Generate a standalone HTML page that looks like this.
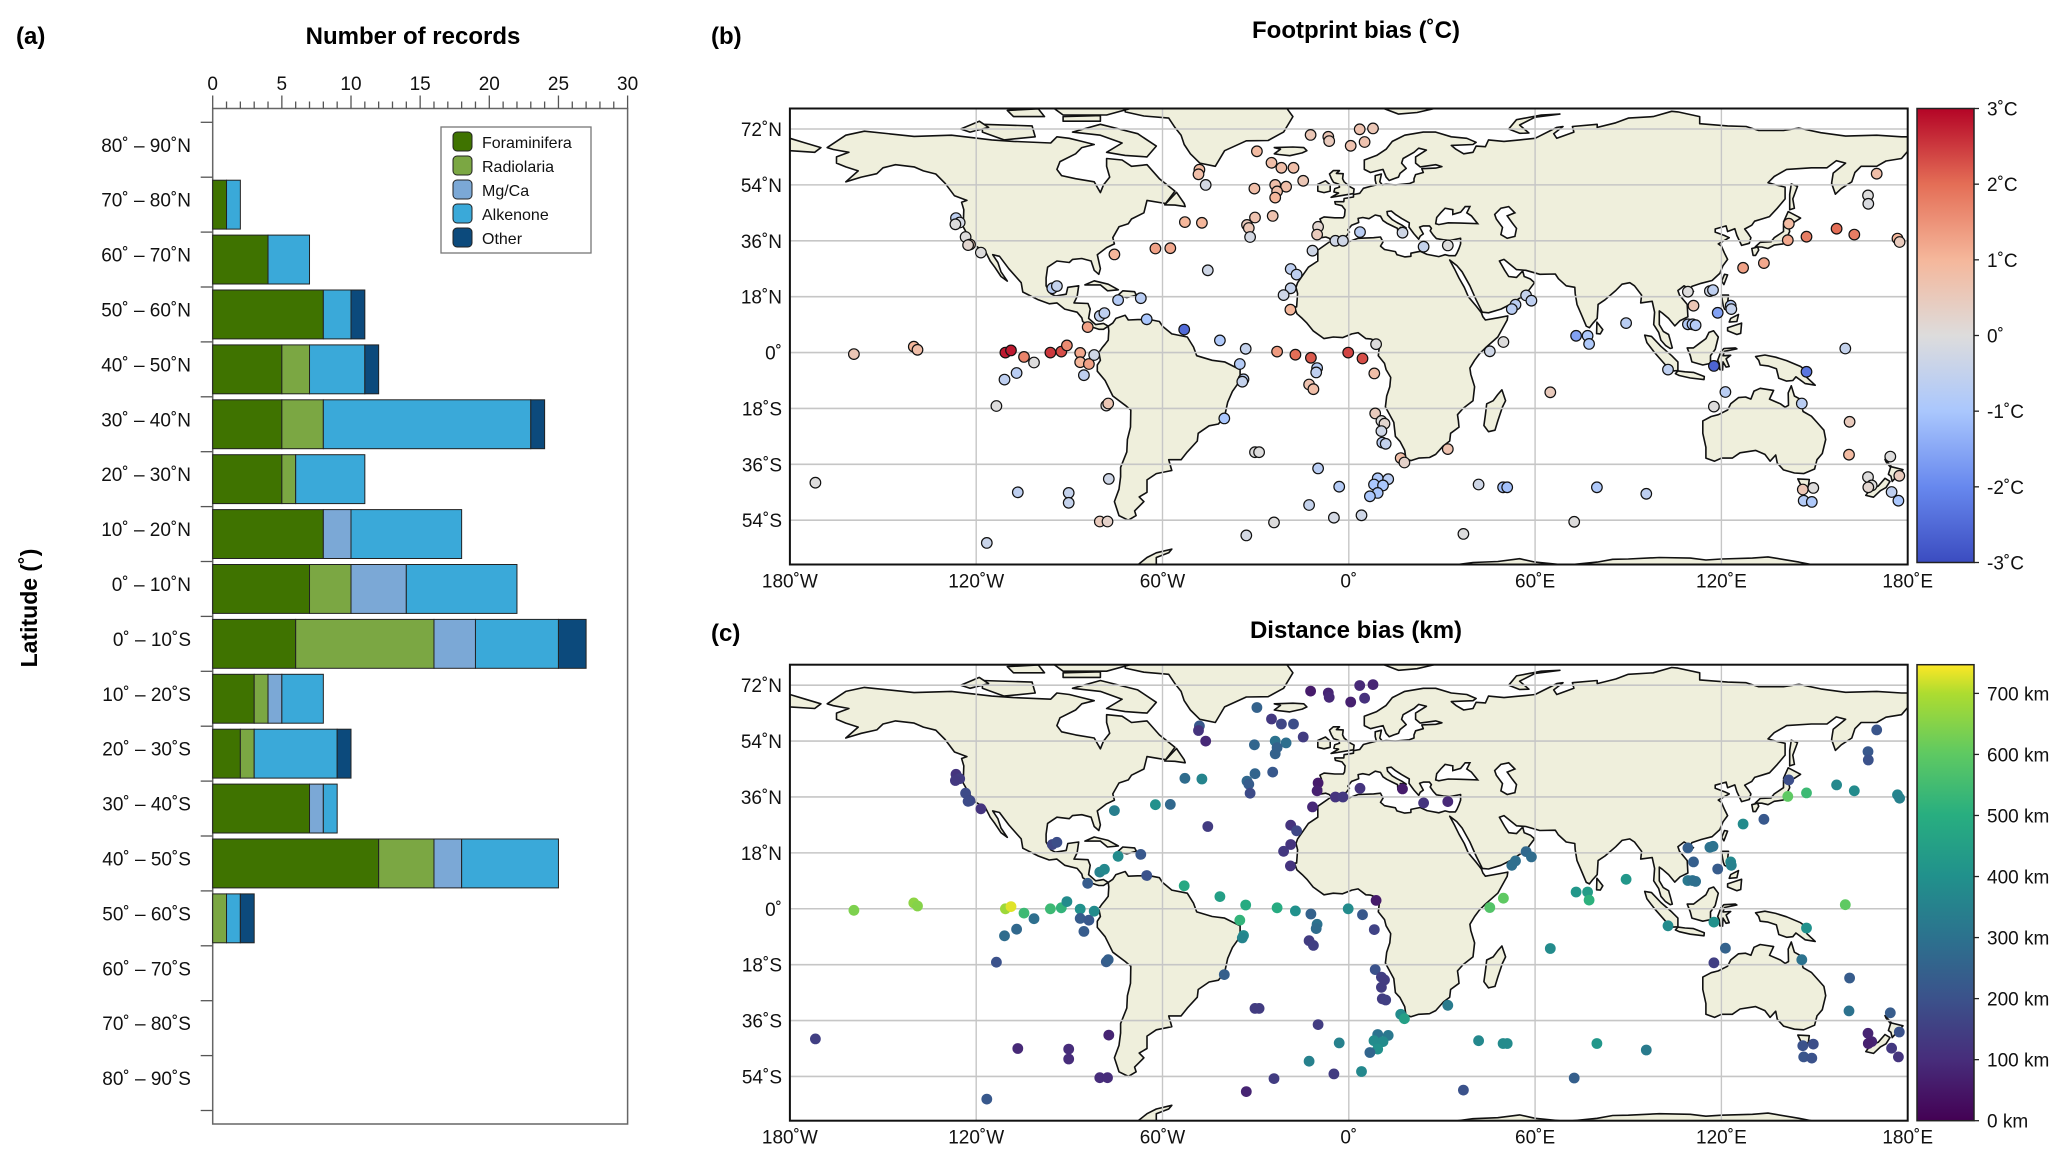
<!DOCTYPE html>
<html><head><meta charset="utf-8">
<style>
html,body{margin:0;padding:0;background:#fff;}
svg{display:block;font-family:"Liberation Sans",sans-serif;}
</style></head>
<body>
<svg id="fig" width="2067" height="1158" viewBox="0 0 2067 1158" xmlns="http://www.w3.org/2000/svg">
<defs>
<clipPath id="clipB"><rect x="789.9" y="108.5" width="1117.8" height="456"/></clipPath>
<clipPath id="clipC"><rect x="789.9" y="664.7" width="1117.8" height="456"/></clipPath>
<linearGradient id="gradB" x1="0" y1="1" x2="0" y2="0">
<stop offset="0" stop-color="#3b4cc0"/><stop offset="0.1667" stop-color="#6788ee"/><stop offset="0.3333" stop-color="#aac7fd"/><stop offset="0.5" stop-color="#dddcdc"/><stop offset="0.6667" stop-color="#f5b79b"/><stop offset="0.8333" stop-color="#e46e56"/><stop offset="1" stop-color="#b40426"/>
</linearGradient>
<linearGradient id="gradC" x1="0" y1="1" x2="0" y2="0">
<stop offset="0" stop-color="#440154"/><stop offset="0.134" stop-color="#472d7b"/><stop offset="0.268" stop-color="#3b528b"/><stop offset="0.402" stop-color="#2c728e"/><stop offset="0.536" stop-color="#21918c"/><stop offset="0.67" stop-color="#28ae80"/><stop offset="0.804" stop-color="#5ec962"/><stop offset="0.937" stop-color="#addc30"/><stop offset="1" stop-color="#fde725"/>
</linearGradient>
</defs>
<g id="panelA"></g>
<g id="panelB"></g>
<g id="panelC"></g>
</svg>
<script>
// ---------- Panel (a) data ----------
const latBands = ["80˚ – 90˚N","70˚ – 80˚N","60˚ – 70˚N","50˚ – 60˚N","40˚ – 50˚N","30˚ – 40˚N","20˚ – 30˚N","10˚ – 20˚N","0˚ – 10˚N","0˚ – 10˚S","10˚ – 20˚S","20˚ – 30˚S","30˚ – 40˚S","40˚ – 50˚S","50˚ – 60˚S","60˚ – 70˚S","70˚ – 80˚S","80˚ – 90˚S"];
const foraminifera = [0,1,4,8,5,5,5,8,7,6,3,2,7,12,0,0,0,0];
const radiolaria   = [0,0,0,0,2,3,1,0,3,10,1,1,0,4,1,0,0,0];
const mgca         = [0,0,0,0,0,0,0,2,4,3,1,0,1,2,0,0,0,0];
const alkenone     = [0,1,3,2,4,15,5,8,8,6,3,6,1,7,1,0,0,0];
const other        = [0,0,0,1,1,1,0,0,0,2,0,1,0,0,1,0,0,0];
const seriesNames  = ["Foraminifera","Radiolaria","Mg/Ca","Alkenone","Other"];
const countTicks   = [0,5,10,15,20,25,30];

// ---------- Map site data (shared site positions) ----------
const siteLon = [-12.3,-6.6,-6.3,0.6,-29.6,-24.9,-21.7,-17.8,-48.1,-48.4,-46.1,-14.7,-23.7,-20.2,-23.1,-23.7,-30.4,-30.2,-24.5,-32.8,-32.2,-31.8,-52.8,-47.3,-9.9,-10.2,-4.3,-1.9,-11.7,-62.3,-57.5,-75.5,-45.4,-18.7,-16.8,-18.7,-21.0,-18.8,-126.5,-125.3,-126.7,-123.4,-122.0,-122.6,-118.5,-95.5,-94.0,-74.3,-67.0,-80.2,-78.7,-84.1,-65.1,-53.0,-41.5,-33.2,-23.1,-17.2,-12.2,-0.2,-35.1,-10.2,-10.5,-33.9,-34.3,-12.8,-11.4,-159.4,-140.1,-138.9,-110.6,-108.8,-104.6,-101.4,-96.1,-92.6,-90.8,-86.5,-86.5,-83.7,-82.0,-107.0,-110.9,-85.3,-113.5,-78.1,-77.5,-40.1,-30.2,-28.9,-9.9,-77.3,-3.1,-171.8,-106.6,-90.2,-90.2,-12.8,-4.8,-80.2,-77.7,-24.1,-33.0,-116.6,
3.5,7.8,5.1,3.6,17.3,24.1,31.9,170.0,167.2,167.3,141.7,141.4,147.4,157.1,162.8,176.7,177.4,127.0,133.7,116.3,117.3,109.2,111.0,118.8,123.0,123.2,109.2,110.7,111.7,89.3,57.1,58.8,53.7,52.5,73.2,76.9,77.4,8.8,49.8,45.4,4.4,8.2,159.9,102.8,117.6,147.4,64.9,121.3,117.6,145.9,8.5,10.5,11.5,10.5,10.8,11.9,31.9,16.7,17.9,161.3,161.1,174.4,9.3,12.7,8.1,11.0,9.3,6.8,41.8,49.7,51.0,79.9,95.8,4.1,36.9,72.6,167.2,168.4,167.3,177.3,174.8,177.0,146.2,149.6,146.5,149.1];
const siteLat = [70.1,69.5,68.1,66.6,64.8,61.1,59.5,59.5,58.9,57.4,54.0,55.3,54.0,53.4,51.9,49.9,52.8,43.5,44.0,41.1,40.1,37.2,42.0,41.8,40.5,38.0,36.0,36.0,32.8,33.5,33.6,31.6,26.5,26.9,25.1,20.7,18.5,13.8,43.3,41.9,41.3,37.2,34.8,34.6,32.2,20.7,21.4,16.9,17.5,11.8,12.7,8.2,10.7,7.4,3.9,1.2,0.3,-0.7,-1.7,0.0,-3.7,-5.0,-6.4,-8.6,-9.4,-10.3,-11.8,-0.5,1.9,0.9,0.0,0.7,-1.4,-3.2,0.0,0.3,2.3,-0.1,-3.1,-3.7,-0.8,-6.6,-8.7,-7.3,-17.2,-17.1,-16.4,-21.2,-32.1,-32.1,-37.3,-40.7,-43.2,-41.9,-45.0,-45.2,-48.4,-49.1,-53.2,-54.4,-54.4,-54.7,-58.9,-61.3,
71.9,72.2,67.8,38.8,38.6,34.1,34.5,57.6,50.6,47.9,41.5,36.2,37.3,39.9,38.0,36.7,35.6,27.3,28.8,19.8,20.1,19.6,15.1,12.8,15.1,14.0,9.1,9.1,8.8,9.5,18.4,16.7,15.4,14.0,5.4,5.4,2.8,2.7,3.4,0.4,-1.9,-6.7,1.3,-5.5,-4.3,-6.2,-12.8,-12.7,-17.4,-16.4,-19.6,-22.0,-22.9,-25.3,-29.0,-29.4,-31.1,-34.0,-35.4,-22.3,-32.9,-33.5,-40.5,-40.8,-42.5,-42.8,-45.2,-46.3,-42.5,-43.4,-43.4,-43.4,-45.5,-52.4,-58.4,-54.5,-40.1,-42.8,-43.4,-39.7,-44.9,-47.7,-44.1,-43.6,-47.7,-48.1];
const footprintBias = [0.6,0.6,0.5,0.7,0.9,0.8,0.8,0.8,0.9,0.8,-0.2,0.6,0.8,0.8,0.8,1.0,0.8,0.7,0.7,0.5,0.6,-0.2,1.0,1.0,0.2,0.5,-0.3,-0.3,-0.3,1.3,1.2,1.0,-0.3,-0.6,-0.6,-0.5,-0.3,1.0,-0.6,-0.2,0,0,0.6,0.2,0,-0.7,-0.5,-0.8,-0.7,-0.6,-0.6,1.3,-1.0,-2.5,-0.9,-0.5,1.4,2.0,2.2,2.4,-0.8,-0.8,-0.6,-0.7,-0.5,0.7,0.8,0.6,1.0,0.8,2.8,2.8,1.7,0,2.5,2.3,1.6,1.2,1.0,1.3,-0.3,-0.7,-0.6,-0.6,0,0,0.6,-1.0,0,0,-0.7,-0.3,-0.8,0,-0.6,-0.5,-0.5,-0.5,-0.2,0.5,0.3,0,-0.2,-0.4,
0.7,0.6,0.7,-0.7,-0.3,-0.5,0,0.8,0,-0.1,0.9,1.2,1.8,2.0,1.8,1.0,0.5,1.3,1.2,-0.3,-0.6,0,0.6,-1.6,-0.8,-0.5,-0.8,-0.9,-0.8,-0.7,-0.5,-0.6,-0.7,-0.7,-1.6,-0.9,-0.9,0,0,-0.3,2.3,0.8,-0.5,-0.6,-2.6,-2.3,0.5,-0.7,0,-0.7,0.5,0,0.2,-0.3,-0.7,-0.5,0.7,0.8,0.3,0.5,0.9,0,-0.9,-0.7,-1.0,-1.0,-1.0,-1.0,-0.3,-1.1,-1.1,-0.9,-0.6,-0.3,0,0,0,0,0.2,0.5,-0.6,-1.0,0.6,0,-0.8,-0.9];
const distanceBias = [60,80,90,70,250,130,170,190,220,120,90,140,300,290,250,250,260,260,220,270,230,180,280,360,60,70,120,130,90,400,270,340,140,120,170,120,130,120,120,140,130,180,170,180,120,170,190,380,220,350,370,230,200,480,450,490,490,400,250,380,520,300,280,380,360,140,150,640,660,650,680,730,540,290,540,520,380,400,230,220,380,270,280,230,200,230,240,240,140,140,140,80,350,150,90,100,100,350,140,100,100,140,80,220,
90,80,110,120,60,120,90,210,220,200,190,600,540,370,380,360,350,380,220,300,300,240,240,230,370,350,320,300,290,420,270,280,290,290,420,440,510,60,600,580,220,160,600,380,400,400,380,250,150,300,200,150,140,140,140,150,330,380,450,230,300,230,300,320,380,380,400,260,370,380,380,420,330,370,200,240,80,80,70,200,130,120,200,190,210,200];
const lonTicks = [-180,-120,-60,0,60,120,180];
const lonTickLabels = ["180˚W","120˚W","60˚W","0˚","60˚E","120˚E","180˚E"];
const latTicks = [72,54,36,18,0,-18,-36,-54];
const latTickLabels = ["72˚N","54˚N","36˚N","18˚N","0˚","18˚S","36˚S","54˚S"];
const tempTicks = [3,2,1,0,-1,-2,-3];
const tempTickLabels = ["3˚C","2˚C","1˚C","0˚","-1˚C","-2˚C","-3˚C"];
const kmTicks = [700,600,500,400,300,200,100,0];
const kmTickLabels = ["700 km","600 km","500 km","400 km","300 km","200 km","100 km","0 km"];

// ---------- Land polygons (lon,lat) ----------
const LAND = [
[[-168,66],[-162,70],[-156,71.3],[-140,69.6],[-128,70],[-115,68.5],[-108,68],[-96,67.5],[-94,69.5],[-90,69],[-86,68],[-82,67],[-86,66],[-88,64],[-93,61.5],[-94,59],[-92.5,57],[-88,56],[-82,55],[-80,51.5],[-79,54],[-77,56.5],[-78,60],[-78,62.5],[-73,62],[-70,60],[-65,60.5],[-61,56],[-56,52],[-59,48],[-65,49],[-66,45],[-70,43],[-71,41.5],[-74,40.5],[-76,37],[-75.5,35],[-78,33.8],[-81,31.5],[-80,27],[-80.5,25.2],[-82,26.5],[-83,29.5],[-86,30.3],[-89,30],[-90,29],[-94,29.5],[-97,27.5],[-97.5,24],[-97.5,21.5],[-96,19],[-94.5,18.2],[-91,18.8],[-90.5,21],[-87,21.5],[-87.5,18],[-88.5,16],[-84,15.8],[-83.3,14],[-83.8,11],[-81.5,9],[-79,9.4],[-77.5,8.5],[-79,7.5],[-80.5,7.5],[-83,8.3],[-85.7,10],[-86,11.2],[-87.5,13],[-91.5,14],[-94,16],[-96.5,15.7],[-100,17],[-105,19.5],[-105.5,22.5],[-109.5,27],[-112.5,31],[-114.7,31.5],[-113,29],[-112,26],[-110,23],[-112,24.5],[-114,27.5],[-115.5,29.5],[-117,32.5],[-120.5,34.5],[-122.5,37.5],[-124.2,40.5],[-124,46],[-124.7,48.4],[-123,49],[-127,50.5],[-130,54.5],[-133,57.5],[-137,58.5],[-140,59.8],[-146,60.5],[-150,59.5],[-152,57.6],[-157,56.5],[-162,55],[-158,58.5],[-162,59.8],[-165,61],[-165,63],[-161,64.5],[-166,65.4]],
[[-72,78.7],[-20,78.7],[-18,76],[-21,71],[-22,70.5],[-26,68.3],[-33,68.2],[-40,65],[-43,60],[-48,61],[-51,64],[-53,67],[-54,70],[-56,72.5],[-58,75.5],[-66,76.2],[-72,77.5]],
[[-80,73.5],[-68,70.5],[-62,66.5],[-65,63],[-72,63.5],[-78,64.5],[-73,67.5],[-80,70],[-89,71]],
[[-118,73.5],[-102,73],[-101,69.5],[-111,68.5],[-118,71]],
[[-125,72],[-119,74.5],[-116,72.5],[-122,71]],
[[-95,78.7],[-70,78.7],[-78,76.5],[-92,76.5]],
[[-92,76],[-80,76.3],[-80,74.5],[-92,74.5]],
[[-110,78],[-100,78.5],[-98,76],[-108,76]],
[[-180,65],[-172,64.5],[-170,66],[-175,67.5],[-180,69]],
[[-77.5,8.5],[-76,9.5],[-75,11],[-72,12],[-71,10.5],[-68,10.6],[-64,10.6],[-61,10],[-60,8.5],[-57,6],[-52,5],[-50,1.8],[-49,-1],[-44,-2.5],[-40,-3],[-35,-5.5],[-35,-9],[-37.5,-12.5],[-39,-16],[-40,-20.5],[-42,-23],[-45,-23.6],[-48.5,-26],[-48.8,-28.5],[-52,-32],[-54,-34.5],[-58,-34.5],[-57,-38],[-62,-39],[-65,-41],[-65,-45],[-67.5,-46.5],[-66,-48],[-69,-51],[-68.5,-52.5],[-71,-54],[-74,-52.5],[-75.5,-48],[-74,-44],[-73.5,-40],[-73.5,-37],[-71.5,-32],[-71.3,-28],[-70.3,-24],[-70.2,-18.5],[-72,-17],[-76,-14],[-78.5,-9],[-81,-6],[-81,-4],[-80,-2.5],[-80.5,0],[-79.5,1.5],[-78.5,2.7],[-77.5,4],[-77.3,7]],
[[-6,35.8],[-10,33],[-10,29.5],[-13,27.5],[-16.5,22.5],[-17,21],[-16.5,19],[-16.8,14.7],[-17.5,14.7],[-16.7,12.5],[-15,11],[-13.5,9.5],[-11.5,7],[-8,4.5],[-5,5],[-2,4.8],[1,6],[3,6.4],[5.5,4.5],[7,4.4],[9,3.7],[9.8,1.5],[9.5,-1],[11.5,-3.5],[12,-5.5],[13.5,-8],[13.2,-11],[12.2,-14],[11.8,-17.5],[14.5,-22.5],[15,-27],[16.5,-28.6],[18,-31.5],[18.4,-34.2],[20,-34.8],[22.5,-34],[26,-33.8],[28,-32.8],[30.5,-30],[32.5,-28.5],[32.8,-26],[35.5,-24],[35.3,-22],[35,-20],[36.8,-18],[40,-15.5],[40.5,-11],[39.3,-7],[39,-5],[40.5,-2.5],[42,-0.5],[44,1.5],[48,5],[51,10.5],[51.2,11.8],[48,11.2],[44,10.5],[43.2,11.5],[42.7,12.8],[41,15],[38.5,18],[37.2,21],[35.5,24],[34,27],[32.5,29.8],[34.8,28],[36.5,26],[39,21.5],[41,17],[43,13],[45,12.8],[49,14],[52,15.5],[55,17.5],[57,18.8],[59.8,22.5],[58.5,23.7],[56.5,24.5],[56,26.3],[54,24.2],[51.5,24.5],[50.2,26.5],[48.5,29.5],[50,30],[54,26.7],[57,26.5],[61.5,25.2],[66.5,25.3],[67.5,23.8],[70,21.5],[72.8,21],[72.9,19],[73.5,15.5],[75,12],[76.5,8.5],[77.5,8],[78.5,9.3],[80,11],[80.3,15.5],[82.5,17],[86,20],[88,22],[90.5,22.5],[92,21.5],[94.3,18.5],[94,16],[97.7,16.5],[98.5,13],[98.2,9],[99.8,6.5],[100.5,4],[102,2.3],[103.5,1.3],[104.2,1.5],[103.5,4],[103,5.8],[101.3,6.8],[100,9],[100,13.4],[101,12.7],[103,11],[105,8.6],[106.7,10.3],[109.2,11.5],[109,15.5],[106.5,18.5],[106,20],[108,21.5],[110,20.3],[110.5,21.3],[113.5,22.3],[117,23.2],[119.5,25.5],[120.5,28],[122,30],[121,32],[120,34.3],[119,35],[122.5,37],[121,37.7],[118,38.8],[118,39.8],[121.5,40.8],[122,39],[124.3,39.9],[125,37.7],[126.5,34.5],[129,35.2],[129.5,37],[128.5,38.5],[127.5,39.8],[129.8,41],[130.7,42.3],[133,43],[135.5,43.8],[138,46.5],[140.5,49.5],[140.5,53.3],[137.5,54],[135,54.7],[137,56.7],[141,59],[149,59.5],[154,59.5],[157,61.8],[160,61],[156,57.8],[155.5,54.5],[156.7,51],[158.6,52.8],[162,55],[163,58],[165,60],[170,60],[173,61.7],[178,62.5],[180,64.8],[180,69.5],[178,69.5],[170,70],[160,69.7],[152,70.8],[145,72.3],[140,71.5],[132,71.5],[128,72.8],[122,73],[113,73.7],[113,76],[106,77.5],[104,77.7],[98,76],[90,75.5],[86,74],[80,72.5],[80,73.5],[72,72.8],[72.5,71],[67,69],[66,70.5],[69,72.8],[67,72.5],[60,69],[55,68.5],[50,68],[45,68.5],[44,66.3],[41,66.5],[40,64.5],[37,64],[34.5,65.5],[33,66.7],[40,67],[41,67.7],[38,69],[33,69.5],[28,71],[24,71],[18,70],[14,68],[12,65.5],[9,63.5],[5,62],[5,59],[7,58],[9,58.5],[11,59],[12,56.5],[13,55.4],[14.5,56],[16,56.5],[16.5,57.7],[18.5,59.3],[17,61],[17.5,62.5],[21,64.5],[22.5,65.8],[25,65.2],[21.5,63],[21.5,61],[23,59.8],[28,60.5],[30,59.9],[28,59.4],[23.5,59.2],[24,58],[21.5,57.3],[21,56],[21,55],[19.5,54.4],[15,54],[12,54.2],[10.8,54],[10,55],[10.5,57.5],[8.5,57],[8.5,55.5],[8.9,54],[7,53.5],[4.7,52.9],[3.5,51.3],[1.5,50.9],[1.5,50.1],[-1.5,49.6],[-1.6,48.6],[-4.5,48.6],[-4.3,47.8],[-2.2,47.3],[-1.2,46],[-1.4,44],[-1.8,43.4],[-4.5,43.4],[-8,43.7],[-9.3,43],[-8.8,41.8],[-9.5,39.5],[-8.8,38.7],[-8.9,37],[-7.4,37.2],[-6.3,36.8],[-5.6,36],[-4.4,36.7],[-2.1,36.7],[-0.7,37.6],[0.2,38.8],[-0.3,39.5],[0.9,41],[3.2,41.9],[3,43.2],[4.5,43.5],[6.5,43.1],[8.5,44.3],[10.2,43.9],[11,42.5],[12.2,41.7],[14,40.8],[15.7,40],[15.8,38.3],[16.5,38.5],[17.2,39.4],[16.6,40.3],[18.5,40.1],[17,41.1],[15.5,41.9],[14,42.8],[12.5,44.3],[12.3,45.4],[13.7,45.6],[15,44.5],[17,43.2],[19.5,41.8],[19.4,40.4],[21,38.2],[22.5,36.5],[23,37.5],[24,38.2],[22.8,40.4],[24,40.8],[26,40.8],[26.6,40],[26.2,39.2],[27.2,37.8],[28.2,36.7],[30.5,36.3],[32.5,36.1],[36,36.8],[36,35],[35.5,33.5],[34.8,32],[34.3,31.2],[32.3,31.2],[31,31.5],[29,30.9],[25.2,31.6],[23,32.6],[20,32],[20,31],[18,30.8],[15.5,31.5],[15,32.5],[11.5,33.2],[10.2,34.3],[11,35.6],[10.2,37.2],[8,37],[3,36.8],[-1,35.3],[-2,35.1],[-5.3,35.9]],
[[-5.7,50],[1.5,51.2],[1.7,52.7],[0.2,53.5],[-1.5,55],[-2,56],[-1.8,57.6],[-4,57.7],[-3,58.6],[-5,58.6],[-6.2,57.5],[-5.6,56],[-4.9,54.8],[-3.2,54.2],[-3,53.3],[-4.5,52.8],[-4.8,51.7],[-3.3,51.4]],
[[-6,52],[-6,54],[-7.5,55.3],[-10,54.2],[-10,52],[-8,51.5]],
[[-24,64],[-22,65.5],[-24,66],[-18,66.2],[-14.5,66],[-13.5,65],[-15,64.3],[-19,63.4],[-22.5,63.8]],
[[130.9,34],[132.5,35.5],[136,35.7],[137,37],[140,39],[140,41.5],[141.5,41.3],[142,39],[141,37],[140.8,35.5],[139.8,35],[137,34.6],[135,33.5],[133,34]],
[[140,42],[141.5,45.4],[145.5,43.3],[143.5,42],[141,41.8]],
[[129.8,33.5],[131.7,34],[132,33],[131,31.3],[130.2,31.3]],
[[142,46],[143.5,46.5],[143,49.5],[144.5,53.5],[142.5,54.3],[142,51]],
[[120.1,23],[121,25.2],[122,25],[120.8,21.9]],
[[108.6,19.2],[110,20.1],[111,19.7],[109.5,18.2]],
[[120,18.5],[122.3,18.5],[122,16],[124,13.8],[123,13],[121,14],[120.6,15]],
[[122,8],[126.5,9.5],[126.2,6.2],[125,5.8],[122,7]],
[[123,11],[125.5,12.3],[125,10],[122.5,9.8]],
[[79.8,6.1],[79.9,9.8],[81.8,7.4],[81,6]],
[[109,1.5],[110,-1],[110.5,-3],[114,-4],[116.5,-3.5],[116.5,-1],[118,1],[119,5],[117.5,7],[116,6.5],[115,4.5],[113,3],[111,1.5]],
[[95.3,5.6],[97.5,5.2],[100.5,2],[104,-1],[106,-3],[106,-5.8],[104.5,-5.9],[102,-4],[98.5,0],[96,3.2]],
[[105.2,-6.8],[106,-5.9],[108.3,-6.2],[111,-6.4],[114.5,-7.7],[114.4,-8.7],[110,-8.2],[106.4,-7.4]],
[[119.5,-5.5],[119.3,-3.5],[118.8,-2.5],[119.8,0.2],[120.8,1.3],[124.5,1.5],[125,1.2],[121,0.4],[120.5,-1],[123,-0.9],[121.5,-2],[122.5,-4.5],[121.5,-4.7],[120.5,-3],[120.4,-5.6]],
[[131,-1.3],[134,-0.8],[137.5,-1.5],[141,-2.6],[145.5,-4.5],[147.5,-6],[147.5,-8],[150.2,-10.5],[147,-10],[144,-7.8],[143,-9],[141,-9.2],[138.5,-8.3],[137.7,-5.2],[135,-4.3],[132.5,-4],[132,-2.5]],
[[114,-22],[114,-26],[115,-30.5],[115,-34],[117.8,-35],[120,-34],[123.5,-34],[126,-32.3],[131,-31.5],[134,-32.8],[135.7,-35],[137.5,-33],[138,-35.6],[140,-37.8],[143.5,-38.8],[146.5,-39],[150,-37.5],[150.8,-34.5],[152.5,-32.5],[153.6,-28],[153,-25],[150.8,-22.5],[149,-20.5],[146.3,-19],[145.3,-15],[143.5,-14],[142.5,-10.7],[141.5,-13],[141.6,-17],[140.5,-17.6],[139,-16.5],[135.5,-15],[136.8,-12.2],[132.5,-11.5],[130.5,-12.4],[129.5,-15],[127.8,-14.3],[125.5,-14.5],[123,-16.5],[122,-18.5],[119,-20],[116.7,-20.6]],
[[144.6,-40.7],[148.3,-40.9],[148,-43.2],[146,-43.5]],
[[172.7,-34.4],[174.8,-36.8],[178.5,-37.7],[177,-39.3],[175,-41.5],[174.6,-39.8],[173.8,-39.2],[174.5,-37],[173,-35.2]],
[[172.7,-40.5],[174.3,-41.5],[173,-43.5],[171.2,-44.5],[169,-46.6],[166.5,-46],[168,-44],[170.5,-43]],
[[49.3,-12],[50.5,-15.5],[49.5,-17.5],[48,-22],[47.1,-25],[45,-25.5],[43.5,-23.5],[44,-20],[44.4,-16.5],[46.5,-15.5],[48,-13.5]],
[[-85,21.8],[-82,23.1],[-77.5,22],[-74.2,20.2],[-77.7,19.9],[-80,21.8]],
[[-74.4,18.4],[-72.8,19.9],[-69,19.6],[-68.4,18.5],[-71.5,17.7]],
[[-59.3,47.6],[-55.5,51.6],[-53,48],[-52.7,47],[-56,47.5]],
[[11,78.7],[28,78.7],[22,77.3],[16,76.8]],
[[51.5,72],[55,70.6],[58,70.7],[55,73.3],[60,75.8],[68,76.8],[62,76.5],[54,75]],
[[-70,-70],[-65,-66],[-62,-64.5],[-57,-63.3],[-58,-64.5],[-62,-66],[-62,-70]],
[[30,-70],[35,-68.3],[40,-67.6],[48,-67.3],[55,-66.4],[60,-67.5],[70,-68.5],[80,-67.5],[85,-66.6],[90,-66.5],[100,-66],[110,-66.2],[115,-66.8],[120,-66.5],[130,-66.2],[135,-65.8],[145,-67.5],[150,-68.5],[155,-70]]
];
const WATER = [
[[28,41.5],[28.3,43.5],[29.6,45],[31,46.5],[33.5,46],[33.5,44.5],[36,45.2],[37.5,47],[39,47],[38,45],[39.5,44],[41.5,41.5],[36,41.7],[32,41.8],[29,41.2]],
[[47,44.5],[49,46.5],[51.5,47],[53.5,45],[51,44],[52.7,41.7],[54,40],[53.5,37.4],[51,36.8],[49,38],[49.5,40.3],[47.5,43]]
];

const NS = "http://www.w3.org/2000/svg";
function mk(tag, attrs, parent, text){
  const e = document.createElementNS(NS, tag);
  for (const k in attrs) e.setAttribute(k, attrs[k]);
  if (text !== undefined) e.textContent = text;
  parent.appendChild(e);
  return e;
}

// ================= Panel A =================
const gA = document.getElementById("panelA");
const ax = {left:212.7, right:627.6, top:108.5, bottom:1124, rowTop:122.3, rowH:54.9};
const xA = v => ax.left + v * (ax.right - ax.left) / 30;
const rowY = i => ax.rowTop + i * ax.rowH;
const colors = ["#3f7300","#7ba743","#7ba8d6","#3aa9d9","#0c4a7c"];
const series = [foraminifera, radiolaria, mgca, alkenone, other];

let t = mk("text",{x:16,y:44,"font-size":24,"font-weight":"bold"},gA,"(a)");


t = mk("text",{x:413,y:44,"font-size":24,"font-weight":"bold","text-anchor":"middle"},gA,"Number of records");


t = mk("text",{x:0,y:0,"font-size":23,"font-weight":"bold","text-anchor":"middle",transform:"translate(37,608) rotate(-90)"},gA,"Latitude (˚)");



const frameA = mk("rect",{x:ax.left,y:ax.top,width:ax.right-ax.left,height:ax.bottom-ax.top,fill:"none",stroke:"#666","stroke-width":1.5},gA);



for (let v = 0; v <= 30; v++) {
  const major = v % 5 === 0;
  const tk = mk("line",{x1:xA(v),x2:xA(v),y1:ax.top,y2:ax.top-(major?13:7),stroke:"#555","stroke-width":1.3},gA);
  
  
}
countTicks.forEach(v => {
  const tl = mk("text",{x:xA(v),y:90,"font-size":19,"text-anchor":"middle",fill:"#111"},gA,String(v));
  
  
});
for (let i = 0; i <= 18; i++) {
  const tk = mk("line",{x1:ax.left-12,x2:ax.left,y1:rowY(i),y2:rowY(i),stroke:"#555","stroke-width":1.3},gA);
  
  
}
latBands.forEach((lab, i) => {
  const tl = mk("text",{x:191,y:rowY(i)+ax.rowH/2+2,"font-size":19,"text-anchor":"end",fill:"#111"},gA,lab);
  
  
  let acc = 0;
  series.forEach((s, k) => {
    const v = s[i];
    if (v > 0) {
      const r = mk("rect",{x:xA(acc),y:rowY(i)+3,width:xA(acc+v)-xA(acc),height:ax.rowH-6,fill:colors[k],stroke:"#222","stroke-width":1},gA);
      
      
    }
    acc += v;
  });
});
// legend
const lg = mk("g",{},gA);


mk("rect",{x:441,y:127,width:150,height:126,fill:"#fff",stroke:"#777","stroke-width":1.3},lg);
seriesNames.forEach((n, k) => {
  const e = mk("g",{},lg);
  
  
  mk("rect",{x:453,y:132+k*24,width:19,height:19,rx:4,fill:colors[k],stroke:"#222","stroke-width":1},e);
  mk("text",{x:482,y:148+k*24,"font-size":16,fill:"#111"},e,n);
});

// ================= Maps =================
const MX0 = 789.9, PXD = 3.105, MW = 360*PXD, MH = 456;
function buildMap(g, top, clipId, values, colorFn, outlined, kind){
  const yEq = top + 78.6*PXD;
  const X = lon => MX0 + (lon+180)*PXD;
  const Y = lat => yEq - lat*PXD;
  const clip = mk("g",{"clip-path":"url(#"+clipId+")"},g);
  
  
  LAND.forEach(poly => {
    const p = mk("polygon",{points:poly.map(q=>X(q[0]).toFixed(1)+","+Y(q[1]).toFixed(1)).join(" "),fill:"#efefdc",stroke:"#111","stroke-width":1.6,"stroke-linejoin":"round"},clip);
    
    
  });
  WATER.forEach(poly => {
    const p = mk("polygon",{points:poly.map(q=>X(q[0]).toFixed(1)+","+Y(q[1]).toFixed(1)).join(" "),fill:"#fff",stroke:"#111","stroke-width":1.6},clip);
    
    
  });
  lonTicks.slice(1,-1).forEach(l => {
    const gl = mk("line",{x1:X(l),x2:X(l),y1:top,y2:top+MH,stroke:"#c6c6c6","stroke-width":1.4},clip);
    
    
  });
  latTicks.forEach(l => {
    const gl = mk("line",{x1:MX0,x2:MX0+MW,y1:Y(l),y2:Y(l),stroke:"#c6c6c6","stroke-width":1.6},clip);
    
    
  });
  siteLon.forEach((lon, i) => {
    const attrs = {cx:X(lon).toFixed(1),cy:Y(siteLat[i]).toFixed(1),r:outlined?5.3:5.4,fill:colorFn(values[i])};
    if (outlined) { attrs.stroke = "#111"; attrs["stroke-width"] = 1.2; }
    const c = mk("circle",attrs,clip);
    
    
  });
  const fr = mk("rect",{x:MX0,y:top,width:MW,height:MH,fill:"none",stroke:"#111","stroke-width":2},g);
  
  
  lonTicks.forEach((l, i) => {
    const tl = mk("text",{x:X(l),y:top+MH+23,"font-size":19,"text-anchor":"middle",fill:"#111"},g,lonTickLabels[i]);
    
    
  });
  latTicks.forEach((l, i) => {
    const tl = mk("text",{x:782,y:Y(l)+7,"font-size":19,"text-anchor":"end",fill:"#111"},g,latTickLabels[i]);
    
    
  });
}
function interp(stops, f){
  f = Math.max(0, Math.min(1, f));
  for (let i = 1; i < stops.length; i++) {
    if (f <= stops[i][0]) {
      const a = stops[i-1], b = stops[i], u = (f-a[0])/(b[0]-a[0]);
      const c = [0,1,2].map(j => Math.round(a[1][j] + (b[1][j]-a[1][j])*u));
      return "rgb("+c.join(",")+")";
    }
  }
  return "rgb("+stops[stops.length-1][1].join(",")+")";
}
const CW = [[0,[59,76,192]],[0.1667,[103,136,238]],[0.3333,[170,199,253]],[0.5,[221,220,220]],[0.6667,[245,183,155]],[0.8333,[228,110,86]],[1,[180,4,38]]];
const VIR = [[0,[68,1,84]],[0.134,[71,45,123]],[0.268,[59,82,139]],[0.402,[44,114,142]],[0.536,[33,145,140]],[0.67,[40,174,128]],[0.804,[94,201,98]],[0.937,[173,220,48]],[1,[253,231,37]]];
const tempColor = v => interp(CW, (v+3)/6);
const kmColor = v => interp(VIR, v/747);

// Panel B
const gB = document.getElementById("panelB");
t = mk("text",{x:711,y:44,"font-size":24,"font-weight":"bold"},gB,"(b)");


t = mk("text",{x:1356,y:38,"font-size":24,"font-weight":"bold","text-anchor":"middle"},gB,"Footprint bias (˚C)");


buildMap(gB, 108.5, "clipB", footprintBias, tempColor, true, "footprint");
const cbB = mk("rect",{x:1917,y:108.5,width:57,height:454,fill:"url(#gradB)",stroke:"#222","stroke-width":1.5},gB);


const yT = v => 108.5 + (3 - v) * 454/6;
tempTicks.forEach((v, i) => {
  mk("line",{x1:1974,x2:1979,y1:yT(v),y2:yT(v),stroke:"#222","stroke-width":1.3},gB);
  const tl = mk("text",{x:1987,y:yT(v)+7,"font-size":19,fill:"#111"},gB,tempTickLabels[i]);
  
  
});

// Panel C
const gC = document.getElementById("panelC");
t = mk("text",{x:711,y:641,"font-size":24,"font-weight":"bold"},gC,"(c)");


t = mk("text",{x:1356,y:638,"font-size":24,"font-weight":"bold","text-anchor":"middle"},gC,"Distance bias (km)");


buildMap(gC, 664.7, "clipC", distanceBias, kmColor, false, "distance");
const cbC = mk("rect",{x:1917,y:664.7,width:57,height:456,fill:"url(#gradC)",stroke:"#222","stroke-width":1.5},gC);


const yK = v => 1120.7 - v * 456/747;
kmTicks.forEach((v, i) => {
  mk("line",{x1:1974,x2:1979,y1:yK(v),y2:yK(v),stroke:"#222","stroke-width":1.3},gC);
  const tl = mk("text",{x:1987,y:yK(v)+7,"font-size":19,fill:"#111"},gC,kmTickLabels[i]);
  
  
});
</script>
</body></html>
